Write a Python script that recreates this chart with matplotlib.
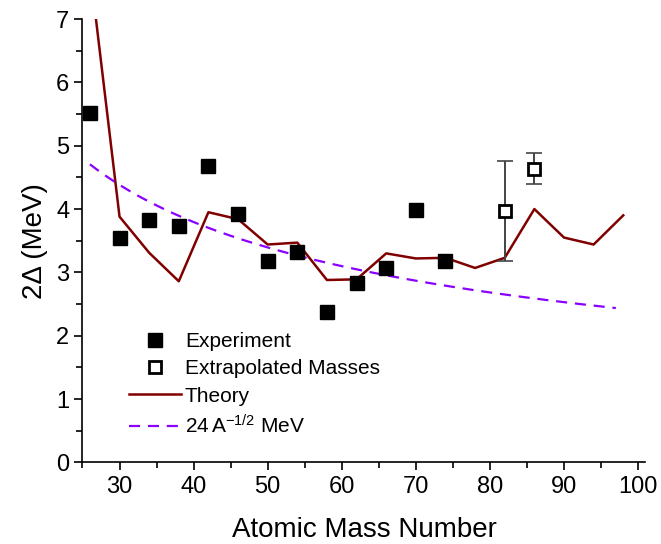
import numpy as np
import matplotlib
matplotlib.use("Agg")
import matplotlib.pyplot as plt
from matplotlib.ticker import MultipleLocator

plt.rcParams['font.family'] = ['Liberation Sans', 'DejaVu Sans']
plt.rcParams['mathtext.fontset'] = 'custom'
plt.rcParams['mathtext.rm'] = 'Liberation Sans'
plt.rcParams['mathtext.it'] = 'Liberation Sans:italic'

# Dữ liệu
exp_A = [26, 30, 34, 38, 42, 46, 50, 54, 58, 62, 66, 70, 74]
exp_gap = [5.51, 3.55, 3.83, 3.74, 4.68, 3.92, 3.18, 3.32, 2.37, 2.83, 3.07, 3.98, 3.18]

extra_A = [82, 86]
extra_gap = [3.97, 4.64]
extra_lo = [3.18, 4.39]
extra_hi = [4.76, 4.88]

theory_A = [26, 30, 34, 38, 42, 46, 50, 54, 58, 62, 66, 70, 74, 78, 82, 86, 90, 94, 98]
theory_gap = [7.8, 3.88, 3.31, 2.86, 3.95, 3.84, 3.44, 3.47, 2.88, 2.89, 3.30, 3.22, 3.23,
              3.07, 3.23, 4.00, 3.55, 3.44, 3.90]

fit_A = np.linspace(26, 97, 200)

fig = plt.figure(figsize=(6.61, 5.44), dpi=100)
ax = fig.add_axes([0.1248, 0.150, 0.8517, 0.815])

ax.plot(theory_A, theory_gap, color='#800000', lw=1.8, label='Theory', zorder=2)
ax.plot(fit_A, 24 / np.sqrt(fit_A), color='#8B00FF', lw=1.6, dashes=(5, 3.5),
        label=r'24$\,$A$^{\mathregular{-1/2}}$ MeV', zorder=2)

ax.plot(exp_A, exp_gap, 's', color='black', markersize=9.5, ls='none',
        label='Experiment', zorder=3)

yerr = [np.array(extra_gap) - np.array(extra_lo), np.array(extra_hi) - np.array(extra_gap)]
ax.errorbar(extra_A, extra_gap, yerr=yerr, fmt='none', ecolor='#444444', elinewidth=1.4,
            capsize=6, capthick=1.2, zorder=3)
ax.plot(extra_A, extra_gap, 's', markerfacecolor='white', markeredgecolor='black',
        markeredgewidth=2, markersize=8.5, ls='none', label='Extrapolated Masses', zorder=4)

ax.set_xlim(25, 101)
ax.set_ylim(0, 7)
ax.xaxis.set_major_locator(MultipleLocator(10))
ax.xaxis.set_minor_locator(MultipleLocator(5))
ax.yaxis.set_major_locator(MultipleLocator(1))
ax.yaxis.set_minor_locator(MultipleLocator(0.5))
ax.spines['top'].set_visible(False)
ax.spines['right'].set_visible(False)
for s in ['left', 'bottom']:
    ax.spines[s].set_linewidth(1.2)
ax.tick_params(which='major', direction='out', length=6, width=1.2, labelsize=17)
ax.tick_params(which='minor', direction='out', length=4, width=1.2)

ax.set_xlabel('Atomic Mass Number', fontsize=20, labelpad=14)
ax.set_ylabel('2\u0394 (MeV)', fontsize=20, labelpad=6)

h, l = ax.get_legend_handles_labels()
order = [2, 3, 0, 1]
ax.legend([h[i] for i in order], [l[i] for i in order], loc='lower left',
          bbox_to_anchor=(0.067, 0.038), frameon=False, fontsize=15,
          handlelength=2.5, handletextpad=0.2, labelspacing=0.4, borderaxespad=0)

fig.savefig('out.png', dpi=100)
